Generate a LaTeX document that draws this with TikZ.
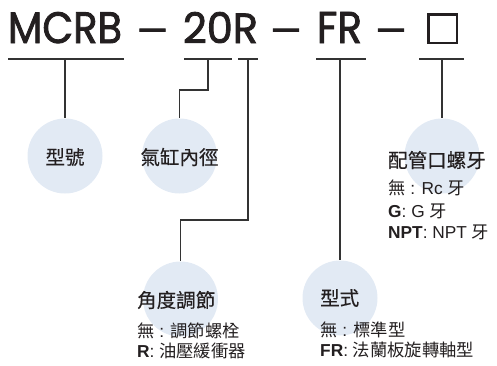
\documentclass[tikz,border=0pt]{standalone}
\usepackage{fontspec}
\usepackage{graphicx}
\setmainfont{Liberation Sans}
\newfontfamily\cjk{Noto Sans CJK TC}
\newfontfamily\cjkh{Noto Sans CJK TC}[FakeBold=0.3]
\newfontfamily\titlefont{Poppins}[FakeBold=2]
\newcommand\zh[1]{{\cjk #1}}
\definecolor{ink}{HTML}{231F20}
\definecolor{bub}{HTML}{E2EAF4}
\definecolor{ln}{HTML}{333333}
\begin{document}
\begin{tikzpicture}[x=1pt,y=-1pt,
  bubble/.style={circle,fill=bub,minimum size=75pt,inner sep=0},
  wire/.style={draw=ln,line width=1.1pt},
  uline/.style={draw=ln,line width=1.1pt},
  head/.style={font=\fontsize{19.5}{19.5}\cjkh,text=ink,inner sep=0},
  sub/.style={font=\fontsize{17.3}{17.3}\selectfont,text=ink,inner sep=0,anchor=west},
  ttl/.style={inner sep=0,anchor=base,text=ink},
  dashtxt/.style={inner sep=0,anchor=base,text=ink,font=\fontsize{43}{43}\titlefont}]
\useasboundingbox (0,0) rectangle (497,365);
% title
\node[ttl] (mcrb) at (65,43) {\resizebox{114pt}{31pt}{\titlefont MCRB}};
\node[dashtxt] (d1) at (152.5,43) {\resizebox{31pt}{!}{—}};
\node[ttl] (n20r) at (220.5,43) {\resizebox{75pt}{31pt}{\titlefont 20R}};
\node[dashtxt] (d2) at (286,43) {\resizebox{31pt}{!}{—}};
\node[ttl] (fr) at (339.5,43) {\resizebox{45pt}{31pt}{\titlefont FR}};
\node[dashtxt] (d3) at (391,43) {\resizebox{31pt}{!}{—}};
\node[draw=ink,line width=2.5pt,minimum size=28.5pt,inner sep=0] (box) at (442.5,28.5) {};
% underlines
\coordinate (a1) at (8,59);   \coordinate (e1) at (124,59);  \coordinate (u1) at (65,59);
\coordinate (a2) at (184,59); \coordinate (e2) at (232,59);  \coordinate (u2) at (208,59);
\coordinate (a3) at (238,59); \coordinate (e3) at (258,59);  \coordinate (u3) at (248,59);
\coordinate (a4) at (316,59); \coordinate (e4) at (366,59);  \coordinate (u4) at (340,59);
\coordinate (a5) at (419,59); \coordinate (e5) at (464,59);  \coordinate (u5) at (442,59);
\foreach \i in {1,...,5} {\draw[uline] (a\i) -- (e\i);}
% bubbles
\node[bubble] (b1) at (65,156) {};
\node[bubble] (b2) at (179.5,156) {};
\node[bubble] (b3) at (180.5,299) {};
\node[bubble] (b4) at (340,298) {};
\node[bubble] (b5) at (442,156) {};
% connectors
\coordinate (k2) at (208,90);
\coordinate (k3) at (248,220);
\draw[wire] (u1) -- (b1.north);
\draw[wire] (u2) -- (k2) -| (b2.north);
\draw[wire] (u3) -- (k3) -| (b3.north);
\draw[wire] (u4) -- (b4.north);
\draw[wire] (u5) -- (b5.north);
% labels
\node[head] (t1) at (65,157) {型號};
\node[head] (t2) at (179.5,157) {氣缸內徑};
\node[head,anchor=west] (t5) at (388,160) {配管口螺牙};
\node[sub] (s5a) at (388,188) {\zh{無} : Rc \zh{牙}};
\node[sub] (s5b) at (388,211) {\textbf{G}: G \zh{牙}};
\node[sub] (s5c) at (388,232) {\textbf{NPT}: NPT \zh{牙}};
\node[head,anchor=west] (t3) at (137,300) {角度調節};
\node[sub] (s3a) at (137,331) {\zh{無} : \zh{調節螺栓}};
\node[sub] (s3b) at (137,351) {\textbf{R}: \zh{油壓緩衝器}};
\node[head,anchor=west] (t4) at (320,298) {型式};
\node[sub] (s4a) at (320,330) {\zh{無} : \zh{標準型}};
\node[sub] (s4b) at (320,350) {\textbf{FR}: \zh{法蘭板旋轉軸型}};
\end{tikzpicture}
\end{document}
